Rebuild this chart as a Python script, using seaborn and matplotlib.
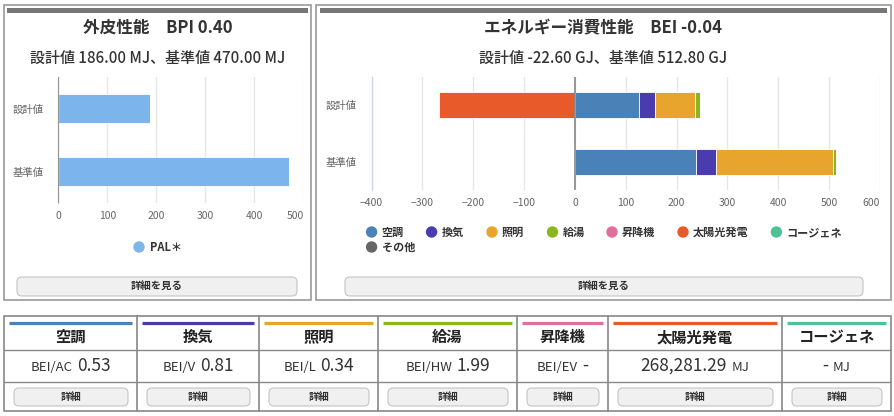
import numpy as np
import pandas as pd
import matplotlib
matplotlib.use("Agg")
import matplotlib.pyplot as plt
import seaborn as sns
from matplotlib.patches import FancyBboxPatch, Rectangle, Circle
from matplotlib.offsetbox import TextArea, HPacker, AnnotationBbox

# ---------------- data ----------------
pal_categories = ["設計値", "基準値"]
pal_values = [186.0, 470.0]
pal_label = "PAL＊"
pal_color = "#7cb5ec"

energy_uses = ["空調", "換気", "照明", "給湯", "昇降機", "太陽光発電", "コージェネ", "その他"]
energy_colors = ["#4a82b8", "#4a3caf", "#e8a52e", "#8ab61e", "#e0709a", "#e95a2b", "#4cc295", "#666666"]
design_gj = [125.2, 32.4, 78.1, 9.95, 0.0, -268.28, 0.0, 0.0]
standard_gj = [238.0, 40.0, 229.8, 5.0, 0.0, 0.0, 0.0, 0.0]

left_title = "外皮性能　BPI 0.40"
left_subtitle = "設計値 186.00 MJ、基準値 470.00 MJ"
right_title = "エネルギー消費性能　BEI -0.04"
right_subtitle = "設計値 -22.60 GJ、基準値 512.80 GJ"
button_label = "詳細を見る"

table_names = ["空調", "換気", "照明", "給湯", "昇降機", "太陽光発電", "コージェネ"]
table_prefix = ["BEI/AC", "BEI/V", "BEI/L", "BEI/HW", "BEI/EV", "", ""]
table_values = ["0.53", "0.81", "0.34", "1.99", "-", "268,281.29", "-"]
table_suffix = ["", "", "", "", "", "MJ", "MJ"]
table_button = "詳細"

# ---------------- style ----------------
sns.set_style("white")
FAM = ["Noto Sans CJK JP", "DejaVu Sans"]
plt.rcParams["font.family"] = FAM

W, H = 895, 416
fig = plt.figure(figsize=(W / 100, H / 100), dpi=100)
fig.patch.set_facecolor("white")
bg = fig.add_axes([0, 0, 1, 1], zorder=0)
bg.set_xlim(0, W)
bg.set_ylim(H, 0)
bg.axis("off")


def ax_px(x0, y0, x1, y1):
    a = fig.add_axes([x0 / W, 1 - y1 / H, (x1 - x0) / W, (y1 - y0) / H], zorder=2)
    a.set_facecolor("none")
    return a


def button(x0, y0, x1, y1, label, fs):
    bg.add_patch(FancyBboxPatch((x0, y0), x1 - x0, y1 - y0,
                                boxstyle="round,pad=0,rounding_size=5",
                                fc="#f0f0f0", ec="#c4c4c4", lw=0.8))
    bg.text((x0 + x1) / 2, (y0 + y1) / 2 + 0.5, label, ha="center", va="center",
            fontsize=fs, color="#333333", weight="bold")


# ---------------- panels ----------------
for (x0, x1, bx0, bx1) in [(4, 311, 7, 308), (316, 891, 320, 887)]:
    bg.add_patch(Rectangle((x0, 5), x1 - x0, 295, fc="white", ec="#9a9a9a", lw=1.2))
    bg.add_patch(Rectangle((bx0, 8), bx1 - bx0, 4.5, fc="#777777", ec="none"))

bg.text(157.5, 28, left_title, ha="center", va="center", fontsize=12, weight="bold", color="#333333")
bg.text(157.5, 58, left_subtitle, ha="center", va="center", fontsize=10.8, weight="medium", color="#333333")
bg.text(603.5, 28, right_title, ha="center", va="center", fontsize=12, weight="bold", color="#333333")
bg.text(603.5, 58, right_subtitle, ha="center", va="center", fontsize=10.8, weight="medium", color="#333333")


def style_axis(ax, xmin, xmax):
    ax.set_xlim(xmin, xmax)
    ax.set_ylim(1.5, -0.5)
    ticks = list(range(xmin, xmax + 1, 100))
    ax.set_xticks(ticks)
    ax.set_xticklabels([str(t) if t >= 0 else "\u2212" + str(-t) for t in ticks])
    labs = ax.get_xticklabels()
    labs[-1].set_ha("right")
    ax.xaxis.grid(True, color="#e6e6e6", lw=1)
    ax.yaxis.grid(False)
    ax.set_axisbelow(True)
    for s in ["top", "right", "bottom"]:
        ax.spines[s].set_visible(False)
    ax.spines["left"].set_color("#ccd6eb")
    ax.spines["left"].set_linewidth(1)
    ax.tick_params(axis="x", length=0, labelsize=7.5, labelcolor="#666666", pad=6)
    ax.tick_params(axis="y", which="major", length=0, labelsize=7.5, labelcolor="#666666", pad=10.5)
    ax.set_yticks([-0.5, 0.5, 1.5], minor=True)
    ax.tick_params(axis="y", which="minor", length=6.5, color="#ccd6eb", width=1, direction="out")
    ax.axvline(0, color="#888888", lw=1.2, zorder=5)
    ax.set_xlabel("")
    ax.set_ylabel("")


# ---------------- left chart (seaborn) ----------------
ax1 = ax_px(58.5, 77, 303.5, 203)
df1 = pd.DataFrame({"区分": pal_categories, "値": pal_values})
sns.barplot(data=df1, x="値", y="区分", orient="h", color=pal_color, saturation=1,
            width=0.46, edgecolor="white", linewidth=0.6, ax=ax1)
style_axis(ax1, 0, 500)
ax1.set_yticks([0, 1])
ax1.set_yticklabels(pal_categories)

bg.add_patch(Circle((139, 247), 5, color=pal_color))
bg.text(150, 247.5, pal_label, ha="left", va="center", fontsize=8, weight="bold", color="#333333")
button(17, 277, 297, 296, button_label, 7.5)

# ---------------- right chart (stacked) ----------------
ax2 = ax_px(371.6, 77, 880, 190)
pos_left = np.zeros(2)
neg_left = np.zeros(2)
for name, color, d, s in zip(energy_uses, energy_colors, design_gj, standard_gj):
    vals = np.array([d, s])
    lefts = np.where(vals >= 0, pos_left, neg_left)
    mask = vals != 0
    if mask.any():
        ax2.barh(np.arange(2)[mask], vals[mask], left=lefts[mask], height=0.46,
                 color=color, edgecolor="white", linewidth=0.6, zorder=3)
    pos_left += np.where(vals > 0, vals, 0)
    neg_left += np.where(vals < 0, vals, 0)
style_axis(ax2, -400, 600)
ax2.set_yticks([0, 1])
ax2.set_yticklabels(pal_categories)

leg_x = [371.6, 431.6, 492, 552.5, 612, 683, 776.4, 371.6]
leg_y = [232, 232, 232, 232, 232, 232, 232, 247]
for name, color, lx, ly in zip(energy_uses, energy_colors, leg_x, leg_y):
    bg.add_patch(Circle((lx, ly), 5, color=color))
    bg.text(lx + 10, ly + 0.5, name, ha="left", va="center", fontsize=8, weight="bold", color="#333333")
button(345, 277, 863, 296, button_label, 7.5)

# ---------------- bottom table ----------------
xb = [4, 137, 259, 378, 517, 608, 782, 891]
yt, y1, y2, yb = 316, 350, 382, 411
bg.add_patch(Rectangle((xb[0], yt), xb[-1] - xb[0], yb - yt, fc="white", ec="#888888", lw=1.2))
for x in xb[1:-1]:
    bg.plot([x, x], [yt, yb], color="#888888", lw=1.2)
for y in (y1, y2):
    bg.plot([xb[0], xb[-1]], [y, y], color="#888888", lw=1.0)

for i, name in enumerate(table_names):
    x0, x1 = xb[i], xb[i + 1]
    cx = (x0 + x1) / 2
    bg.plot([x0 + 5, x1 - 5], [322.5, 322.5], color=energy_colors[i], lw=2.3, solid_capstyle="butt")
    bg.text(cx, 337, name, ha="center", va="center", fontsize=11, weight="bold", color="#222222")
    parts = []
    if table_prefix[i]:
        parts.append(TextArea(table_prefix[i], textprops=dict(fontsize=9.5, color="#333333", family=FAM)))
    parts.append(TextArea(table_values[i], textprops=dict(fontsize=12.5, color="#333333", family=FAM)))
    if table_suffix[i]:
        parts.append(TextArea(table_suffix[i], textprops=dict(fontsize=9.5, color="#333333", family=FAM)))
    pack = HPacker(children=parts, align="baseline", pad=0, sep=3)
    ab = AnnotationBbox(pack, (cx, 366), xycoords="data", box_alignment=(0.5, 0.5),
                        frameon=False, pad=0)
    bg.add_artist(ab)
    button(x0 + 10, 388, x1 - 9, 406, table_button, 7.5)

fig.savefig("out.png", dpi=100)
